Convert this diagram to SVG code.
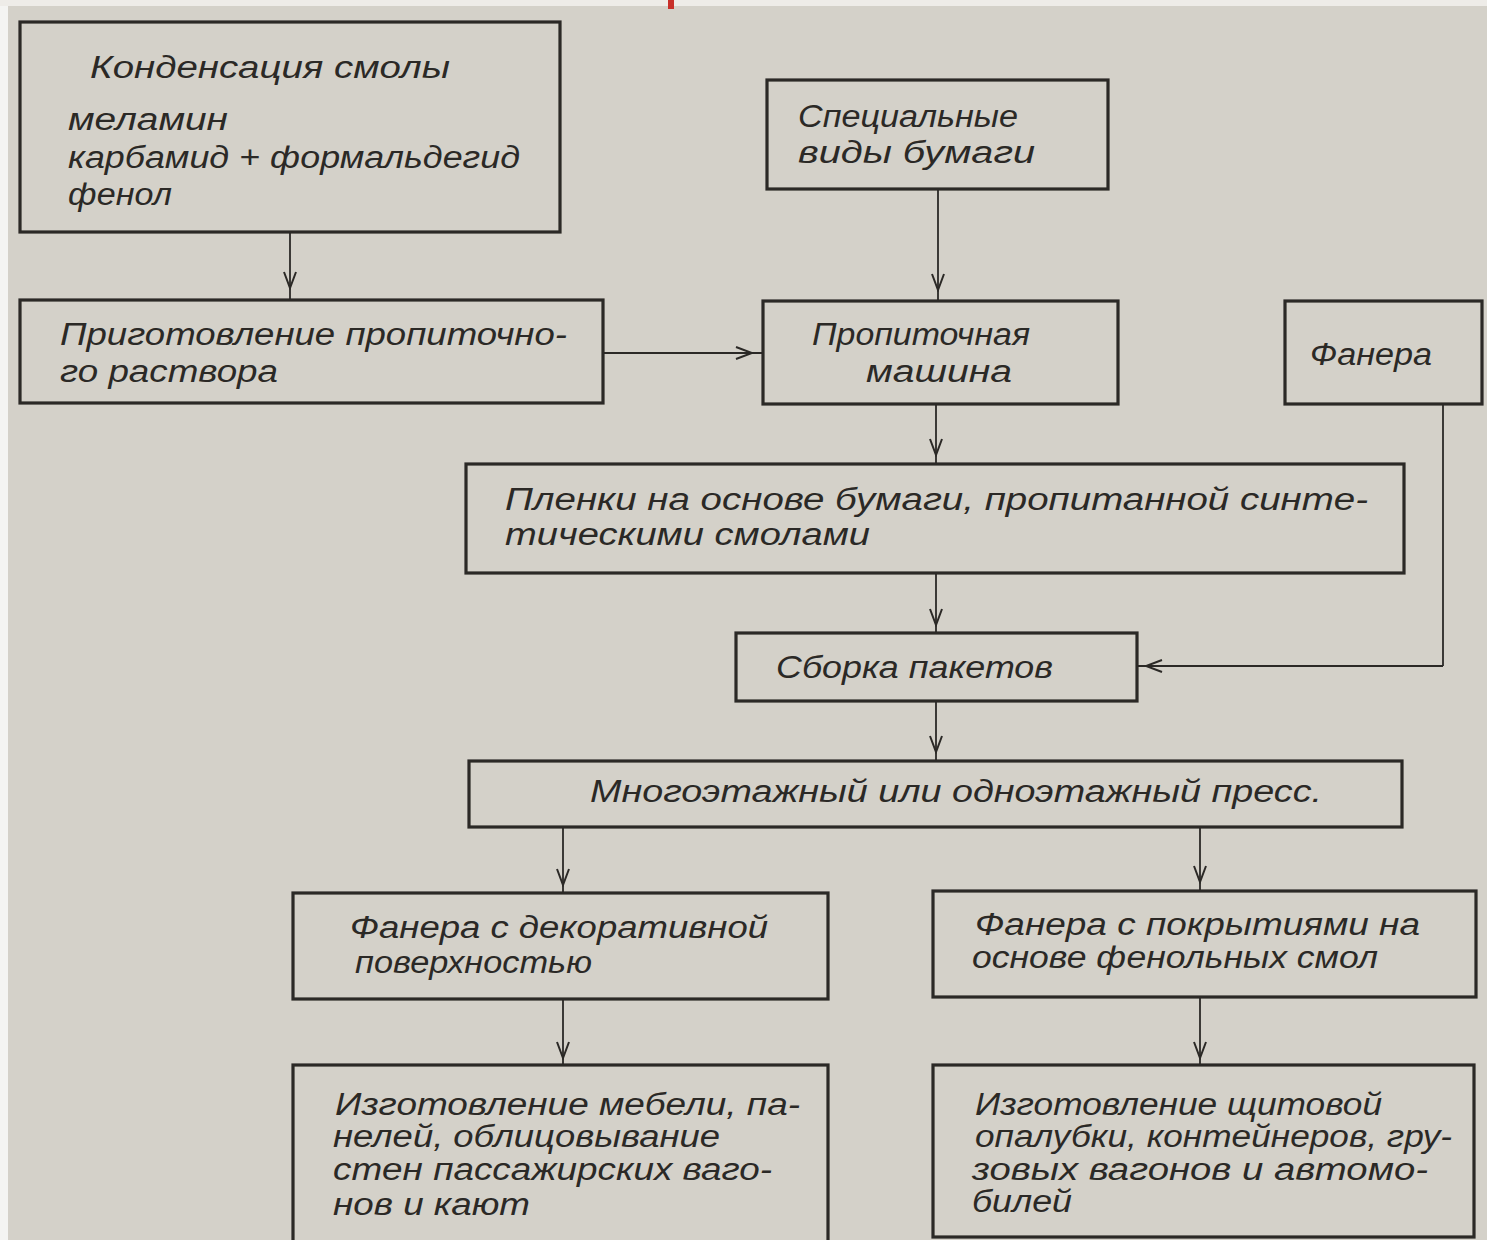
<svg xmlns="http://www.w3.org/2000/svg" width="1487" height="1240" viewBox="0 0 1487 1240">
<defs>
<marker id="v" viewBox="0 0 20 20" refX="18" refY="10" markerWidth="20" markerHeight="20" markerUnits="userSpaceOnUse" orient="auto">
<path d="M2,4 L18,10 L2,16" fill="none" stroke="#2b2926" stroke-width="2"/>
</marker>
<style>
.box{fill:none;stroke:#2b2926;stroke-width:3.2}
.t{font-family:"Liberation Sans","DejaVu Sans",sans-serif;font-style:italic;font-size:31px;fill:#2b2926}
.c{fill:none;stroke:#2b2926;stroke-width:1.8;marker-mid:url(#v)}
.l{fill:none;stroke:#2b2926;stroke-width:1.8}
</style>
</defs>
<rect x="0" y="0" width="1487" height="1240" fill="#d4d1c9"/>
<rect x="0" y="0" width="8" height="1240" fill="#f4f4f2"/>
<rect x="0" y="0" width="1487" height="6" fill="#eeece8"/>
<rect x="668" y="0" width="6" height="9" fill="#c8302a"/>

<g id="connectors">
<path class="c" d="M290,232 L290,288 L290,300"/>
<path class="c" d="M603,353 L752,353 L763,353"/>
<path class="c" d="M938,189 L938,290 L938,301"/>
<path class="c" d="M936,404 L936,455 L936,464"/>
<path class="c" d="M936,573 L936,625 L936,633"/>
<path class="l" d="M1443,404 L1443,666"/>
<path class="c" d="M1443,666 L1146,666 L1137,666"/>
<path class="c" d="M936,701 L936,752 L936,761"/>
<path class="c" d="M563,827 L563,885 L563,893"/>
<path class="c" d="M1200,827 L1200,882 L1200,891"/>
<path class="c" d="M563,999 L563,1058 L563,1065"/>
<path class="c" d="M1200,997 L1200,1058 L1200,1065"/>
</g>

<g id="n1">
<rect class="box" x="20" y="22" width="540" height="210"/>
<text class="t" x="90" y="78" textLength="360" lengthAdjust="spacingAndGlyphs">Конденсация  смолы</text>
<text class="t" x="68" y="130" textLength="160" lengthAdjust="spacingAndGlyphs">меламин</text>
<text class="t" x="68" y="168" textLength="452" lengthAdjust="spacingAndGlyphs">карбамид + формальдегид</text>
<text class="t" x="68" y="205" textLength="104" lengthAdjust="spacingAndGlyphs">фенол</text>
</g>
<g id="n2">
<rect class="box" x="20" y="300" width="583" height="103"/>
<text class="t" x="60" y="345" textLength="507" lengthAdjust="spacingAndGlyphs">Приготовление  пропиточно-</text>
<text class="t" x="60" y="382" textLength="218" lengthAdjust="spacingAndGlyphs">го  раствора</text>
</g>
<g id="n3">
<rect class="box" x="767" y="80" width="341" height="109"/>
<text class="t" x="798" y="127" textLength="220" lengthAdjust="spacingAndGlyphs">Специальные</text>
<text class="t" x="798" y="163" textLength="237" lengthAdjust="spacingAndGlyphs">виды  бумаги</text>
</g>
<g id="n4">
<rect class="box" x="763" y="301" width="355" height="103"/>
<text class="t" x="812" y="345" textLength="218" lengthAdjust="spacingAndGlyphs">Пропиточная</text>
<text class="t" x="866" y="382" textLength="146" lengthAdjust="spacingAndGlyphs">машина</text>
</g>
<g id="n5">
<rect class="box" x="1285" y="301" width="197" height="103"/>
<text class="t" x="1310" y="365" textLength="122" lengthAdjust="spacingAndGlyphs">Фанера</text>
</g>
<g id="n6">
<rect class="box" x="466" y="464" width="938" height="109"/>
<text class="t" x="505" y="510" textLength="863" lengthAdjust="spacingAndGlyphs">Пленки  на  основе  бумаги,  пропитанной  синте-</text>
<text class="t" x="505" y="545" textLength="365" lengthAdjust="spacingAndGlyphs">тическими  смолами</text>
</g>
<g id="n7">
<rect class="box" x="736" y="633" width="401" height="68"/>
<text class="t" x="776" y="678" textLength="277" lengthAdjust="spacingAndGlyphs">Сборка  пакетов</text>
</g>
<g id="n8">
<rect class="box" x="469" y="761" width="933" height="66"/>
<text class="t" x="590" y="802" textLength="732" lengthAdjust="spacingAndGlyphs">Многоэтажный  или  одноэтажный  пресс.</text>
</g>
<g id="n9">
<rect class="box" x="293" y="893" width="535" height="106"/>
<text class="t" x="350" y="938" textLength="418" lengthAdjust="spacingAndGlyphs">Фанера  с  декоративной</text>
<text class="t" x="355" y="973" textLength="237" lengthAdjust="spacingAndGlyphs">поверхностью</text>
</g>
<g id="n10">
<rect class="box" x="933" y="891" width="543" height="106"/>
<text class="t" x="975" y="935" textLength="445" lengthAdjust="spacingAndGlyphs">Фанера  с  покрытиями  на</text>
<text class="t" x="972" y="968" textLength="406" lengthAdjust="spacingAndGlyphs">основе  фенольных  смол</text>
</g>
<g id="n11">
<rect class="box" x="293" y="1065" width="535" height="178"/>
<text class="t" x="335" y="1115" textLength="465" lengthAdjust="spacingAndGlyphs">Изготовление  мебели,  па-</text>
<text class="t" x="333" y="1147" textLength="387" lengthAdjust="spacingAndGlyphs">нелей,  облицовывание</text>
<text class="t" x="333" y="1180" textLength="439" lengthAdjust="spacingAndGlyphs">стен  пассажирских  ваго-</text>
<text class="t" x="333" y="1215" textLength="197" lengthAdjust="spacingAndGlyphs">нов  и  кают</text>
</g>
<g id="n12">
<rect class="box" x="933" y="1065" width="541" height="172"/>
<text class="t" x="975" y="1115" textLength="407" lengthAdjust="spacingAndGlyphs">Изготовление  щитовой</text>
<text class="t" x="975" y="1147" textLength="477" lengthAdjust="spacingAndGlyphs">опалубки,  контейнеров,  гру-</text>
<text class="t" x="972" y="1180" textLength="456" lengthAdjust="spacingAndGlyphs">зовых  вагонов  и  автомо-</text>
<text class="t" x="972" y="1212" textLength="100" lengthAdjust="spacingAndGlyphs">билей</text>
</g>
</svg>
